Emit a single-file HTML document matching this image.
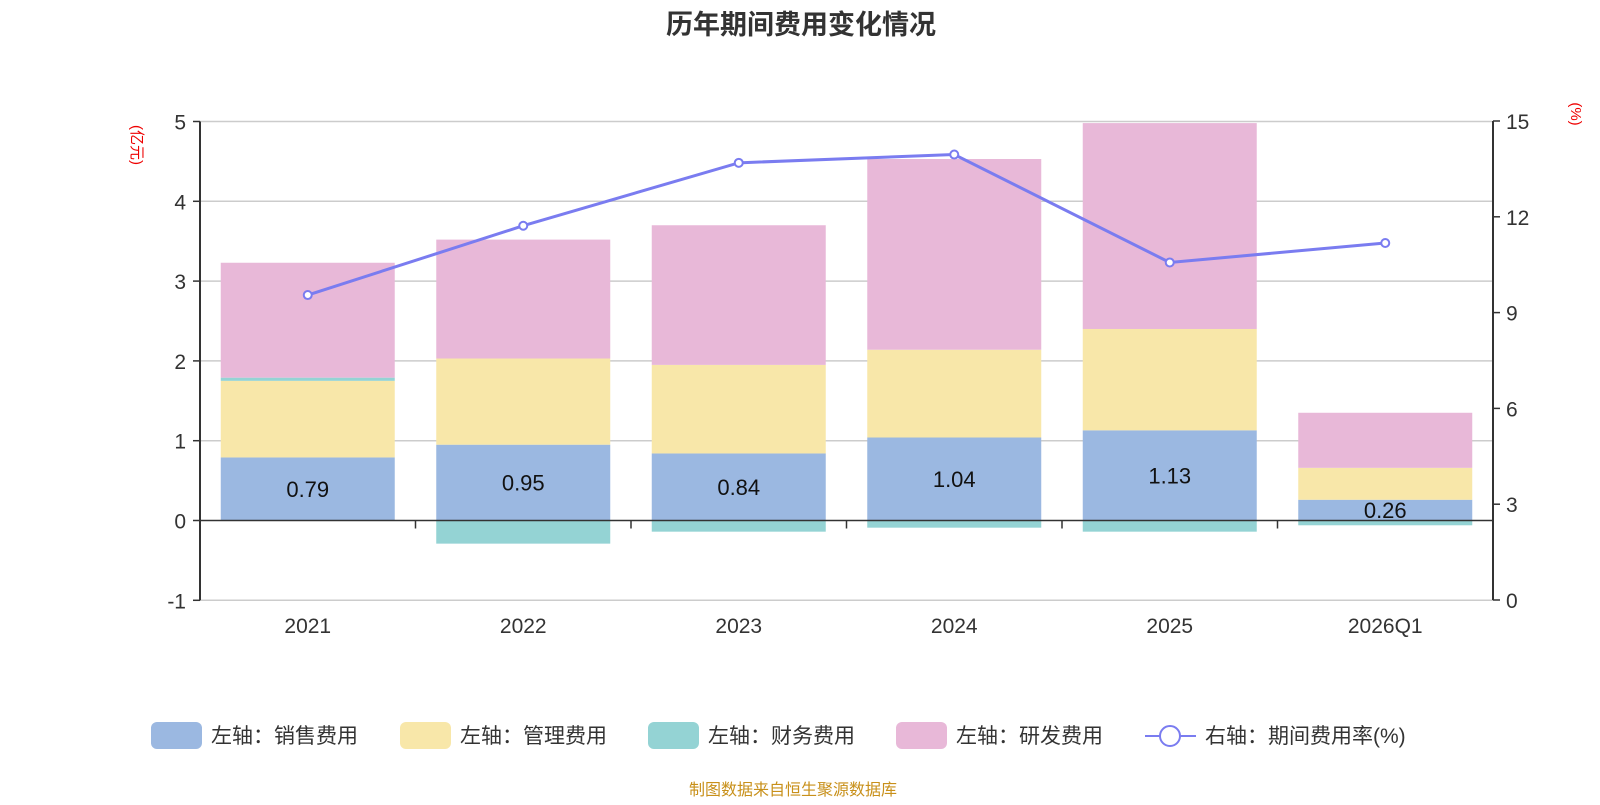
<!DOCTYPE html>
<html><head><meta charset="utf-8"><style>
body{margin:0;background:#fff;font-family:"Liberation Sans","Noto Sans CJK SC",sans-serif}
</style></head><body>
<svg id="c" width="1600" height="800" xmlns="http://www.w3.org/2000/svg" style="font-family:'Liberation Sans','Noto Sans CJK SC',sans-serif">
<text x="801" y="34" text-anchor="middle" font-size="27" font-weight="bold" fill="#333">历年期间费用变化情况</text>
<text x="0" y="0" transform="translate(132,145) rotate(90)" text-anchor="middle" font-size="15" fill="#e00">(亿元)</text>
<text x="0" y="0" transform="translate(1571,114) rotate(90)" text-anchor="middle" font-size="15" fill="#e00">(%)</text>
<g id="grid"></g><g id="bars"></g><g id="axes"></g><g id="line"></g>
<g font-size="21" fill="#333">
<rect x="151" y="722" width="51" height="27" rx="6" fill="#9bb8e1"/><text x="211" y="743">左轴：销售费用</text>
<rect x="400" y="722" width="51" height="27" rx="6" fill="#f8e7a9"/><text x="460" y="743">左轴：管理费用</text>
<rect x="648" y="722" width="51" height="27" rx="6" fill="#94d3d4"/><text x="708" y="743">左轴：财务费用</text>
<rect x="896" y="722" width="51" height="27" rx="6" fill="#e8b8d8"/><text x="956" y="743">左轴：研发费用</text>
<line x1="1145" y1="736" x2="1196" y2="736" stroke="#7a7cf0" stroke-width="2"/><circle cx="1170" cy="736" r="10" fill="#fff" stroke="#7a7cf0" stroke-width="2"/><text x="1205" y="743">右轴：期间费用率(%)</text>
</g>
<text x="793" y="795" text-anchor="middle" font-size="16" fill="#c8901a">制图数据来自恒生聚源数据库</text>
</svg>
<script>
const categories=["2021","2022","2023","2024","2025","2026Q1"];
const sales=[0.79,0.95,0.84,1.04,1.13,0.26];
const mgmt=[0.96,1.08,1.11,1.10,1.27,0.40];
const finance=[0.04,-0.29,-0.14,-0.09,-0.14,-0.06];
const rd=[1.44,1.49,1.75,2.39,2.58,0.69];
const rate=[9.55,11.72,13.69,13.95,10.57,11.18];
const leftTicks=[-1,0,1,2,3,4,5];
const rightTicks=[0,3,6,9,12,15];
const NS="http://www.w3.org/2000/svg";
const X0=200,X1=1493,band=(X1-X0)/categories.length,bw=174;
const yL=v=>520.5-v*79.8;
const yR=v=>600-v*(479/15);
const xc=i=>X0+band*(i+0.5);
function mk(t,a,p){const e=document.createElementNS(NS,t);for(const k in a)e.setAttribute(k,a[k]);document.getElementById(p).appendChild(e);return e;}
leftTicks.forEach(v=>{
 if(v!==0){const g=mk('line',{x1:X0,x2:X1,y1:yL(v),y2:yL(v),stroke:'#ccc','stroke-width':1.5},'grid');
 
 }
 const t=mk('text',{x:X0-14,y:yL(v)+8,'text-anchor':'end','font-size':21,fill:'#333'},'axes');t.textContent=v;
 
 
 mk('line',{x1:X0-7,x2:X0,y1:yL(v),y2:yL(v),stroke:'#333','stroke-width':1.5},'axes');
});
rightTicks.forEach(v=>{
 const t=mk('text',{x:X1+13,y:yR(v)+8,'font-size':21,fill:'#333'},'axes');t.textContent=v;
 
 
 mk('line',{x1:X1,x2:X1+7,y1:yR(v),y2:yR(v),stroke:'#333','stroke-width':1.5},'axes');
});
categories.forEach((c,i)=>{
 const x=xc(i)-bw/2;
 let pos=0,neg=0;
 const segs=[[sales[i],'#9bb8e1','bar-sales'],[mgmt[i],'#f8e7a9','bar-mgmt'],[finance[i],'#94d3d4','bar-finance'],[rd[i],'#e8b8d8','bar-rd']];
 segs.forEach(([v,col,n])=>{
  let y0,y1;
  if(v>=0){y0=pos;y1=pos+v;pos=y1;}else{y0=neg+v;y1=neg;neg=y0;}
  const r=mk('rect',{x:x,width:bw,y:yL(y1),height:yL(y0)-yL(y1),fill:col},'bars');
  
  
 });
 const l=mk('text',{x:xc(i),y:yL(sales[i]/2)+8,'text-anchor':'middle','font-size':22,fill:'#111'},'bars');l.textContent=sales[i].toFixed(2);
 
 
 const t=mk('text',{x:xc(i),y:633,'text-anchor':'middle','font-size':21,fill:'#333'},'axes');t.textContent=c;
 
 
});
for(let i=0;i<=categories.length;i++){mk('line',{x1:X0+band*i,x2:X0+band*i,y1:yL(0),y2:yL(0)+8,stroke:'#333','stroke-width':1.5},'axes');}
const a1=mk('line',{x1:X0,x2:X0,y1:yL(5),y2:yL(-1),stroke:'#333','stroke-width':2},'axes');
const a2=mk('line',{x1:X1,x2:X1,y1:yR(15),y2:yR(0),stroke:'#333','stroke-width':2},'axes');
const a3=mk('line',{x1:X0,x2:X1,y1:yL(0),y2:yL(0),stroke:'#333','stroke-width':1.5},'axes');
const pl=mk('polyline',{points:rate.map((v,i)=>xc(i)+','+yR(v)).join(' '),fill:'none',stroke:'#7a7cf0','stroke-width':3},'line');


rate.forEach((v,i)=>{const p=mk('circle',{cx:xc(i),cy:yR(v),r:4,fill:'#fff',stroke:'#7a7cf0','stroke-width':2},'line');
 
 });
</script>
</body></html>
